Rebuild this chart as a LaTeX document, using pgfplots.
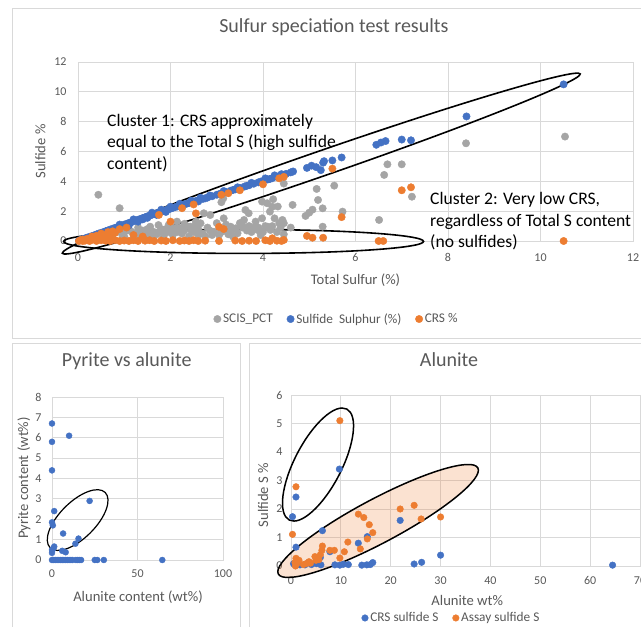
\documentclass[border=0pt]{standalone}
\usepackage{fontspec}
\setmainfont{Carlito}
\usepackage{pgfplots}
\pgfplotsset{compat=1.18}
\definecolor{exgray}{HTML}{A5A5A5}
\definecolor{exblue}{HTML}{4472C4}
\definecolor{exorange}{HTML}{ED7D31}
\definecolor{gridc}{HTML}{D9D9D9}
\definecolor{txt}{HTML}{595959}
\definecolor{frame}{HTML}{D9D9D9}

\pgfplotsset{
  excel/.style={
    scale only axis, clip=false,
    grid=major, major grid style={gridc, line width=0.8pt},
    axis line style={gridc, line width=0.8pt},
    major tick length=0pt,
    tick label style={font=\fontsize{12}{14}\selectfont, text=txt},
    /pgf/number format/assume math mode=true,
    label style={font=\fontsize{14.6}{17}\selectfont, text=txt},
    title style={font=\fontsize{20}{24}\selectfont, text=txt, anchor=center},
    legend style={draw=none, fill=none, legend columns=-1,
      font=\fontsize{13.3}{16}\selectfont, text=txt, anchor=center,
      /tikz/every odd column/.style={column sep=0pt},
      /tikz/every even column/.style={column sep=12pt}},
    legend cell align=left,
    legend image code/.code={\draw[##1] plot coordinates {(0pt,0pt)};},
    only marks,
  }
}

\begin{document}
\begin{tikzpicture}[x=1pt,y=1pt]
\path[use as bounding box, fill=white] (0,0) rectangle (641,627);
% panel frames
\draw[frame, line width=0.8pt] (12,627-8) rectangle (650,627-338);
\draw[frame, line width=0.8pt] (12.5,627-343) rectangle (240.5,-5);
\draw[frame, line width=0.8pt] (249,627-343) rectangle (650,-5);

% ================= TOP CHART =================
\begin{axis}[excel,
  at={(78pt,386pt)}, anchor=south west,
  width=555pt, height=179pt,
  xmin=0, xmax=12, ymin=0, ymax=12,
  xtick={0,2,...,12}, ytick={0,2,...,12},
  xticklabel style={yshift=-9pt},
  yticklabel style={xshift=-8pt},
  title={Sulfur speciation test results},
  title style={at={(axis description cs:0.461,1.162)}},
  xlabel={Total Sulfur (\%)},
  xlabel style={at={(axis description cs:0.5,-0.218)}, anchor=center},
  ylabel={Sulfide \%},
  ylabel style={at={(axis description cs:-0.068,0.5)}, anchor=center},
  legend style={at={(axis description cs:0.466,-0.436)}},
]
\addplot[mark=*, exgray, mark size=3.7pt] coordinates {
(0.44,3.1)(0.9,2.2)
(0.2,0.1)(0.3,0.2)(0.45,0.15)(0.5,0.3)(0.6,0.5)(0.7,0.4)(0.75,0.2)(0.84,0.62)(0.95,0.45)(1.0,0.3)(1.05,0.7)(1.1,0.8)(1.16,0.62)(1.2,0.2)(1.25,0.5)(1.3,0.9)(1.35,0.35)(1.4,0.7)(1.45,0.3)(1.5,0.5)(1.56,0.96)(1.6,0.2)(1.63,0.62)(1.7,0.45)(1.74,1.07)(1.8,0.8)(1.85,0.3)(1.9,0.55)(1.96,1.07)(2.0,0.6)(2.05,0.4)(2.1,0.85)(2.14,1.3)(2.2,0.85)(2.25,0.5)(2.3,0.7)(2.35,1.0)(2.4,0.3)(2.43,0.96)(2.5,0.6)(2.54,1.07)(2.6,0.8)(2.65,1.19)(2.7,0.5)(2.72,1.86)(2.75,0.3)(2.8,0.9)(2.86,1.74)(2.9,0.4)(2.94,0.62)(3.0,1.2)(3.05,0.4)(3.1,2.6)(3.14,2.85)(3.15,1.52)(3.2,0.7)(3.25,0.45)(3.3,0.96)(3.35,0.3)(3.41,0.85)(3.45,0.52)(3.5,1.2)(3.55,1.07)(3.59,1.41)(3.62,2.08)(3.65,0.7)(3.69,1.86)(3.75,0.6)(3.8,0.9)(3.84,1.3)(3.88,0.74)(3.95,0.4)(3.98,1.52)(3.98,2.64)(4.05,1.0)(4.09,2.53)(4.1,0.96)(4.15,1.97)(4.16,0.74)(4.2,2.3)(4.22,2.8)(4.25,1.52)(4.3,0.6)(4.32,2.31)(4.38,0.9)(4.42,1.41)(4.45,1.19)(4.45,0.45)(4.45,3.85)(4.64,2.42)(4.6,0.9)(4.92,1.68)(5.0,1.9)(5.07,2.1)(5.16,3.49)(5.19,2.75)(5.29,2.19)(5.29,0.96)(5.54,3.71)(5.72,1.97)(6.51,1.41)(6.62,4.43)(6.69,5.14)(7.0,5.14)(7.22,2.97)(8.39,6.55)(10.53,7.0)
(1.3,0.6)(1.5,0.8)(1.75,0.6)(2.0,0.9)(2.15,0.6)(2.45,0.7)(2.6,0.4)(2.85,0.7)(3.1,0.6)(3.3,0.6)(3.55,0.9)(3.7,1.0)(3.9,0.9)(4.0,0.6)(4.2,1.0)(4.35,1.2)(2.55,1.3)(2.3,1.15)(1.9,0.8)(3.2,1.1)
};
\addlegendentry{SCIS\_PCT}
\addplot[mark=*, exblue, mark size=3.7pt] coordinates {
(0.02,0.03)(0.05,0.06)(0.08,0.1)(0.12,0.14)(0.16,0.18)(0.2,0.23)(0.25,0.28)(0.3,0.33)(0.35,0.38)(0.4,0.44)(0.45,0.5)(0.5,0.55)(0.55,0.6)(0.6,0.66)(0.65,0.71)(0.7,0.77)(0.75,0.82)(0.8,0.88)(0.85,0.93)(0.9,0.99)(0.95,1.04)(1.0,1.1)(1.05,1.15)(1.1,1.21)(1.15,1.26)(1.2,1.32)(1.25,1.37)(1.3,1.43)(1.35,1.48)(1.4,1.54)(1.45,1.59)(1.5,1.65)(1.55,1.7)(1.6,1.76)(1.65,1.81)(1.7,1.86)(1.75,1.92)(1.8,1.97)(1.85,2.02)(1.9,2.07)(1.95,2.12)(2.0,2.17)(2.05,2.22)(2.1,2.27)(2.15,2.32)(2.2,2.37)(2.3,2.46)(2.35,2.5)(2.4,2.55)(2.5,2.64)(2.55,2.68)(2.6,2.73)(2.7,2.82)(2.75,2.86)(2.8,2.91)(2.9,3.0)(3.0,3.1)(3.05,3.14)(3.1,3.19)(3.2,3.28)(3.3,3.37)(3.35,3.42)(3.4,3.46)(3.5,3.56)(3.6,3.65)(3.65,3.7)(3.7,3.74)(3.8,3.84)(3.9,3.93)(3.95,3.98)(4.0,4.02)(4.1,4.12)(4.15,4.16)(4.2,4.21)(4.3,4.3)(4.35,4.35)(4.4,4.48)(4.5,4.5)(4.6,4.6)(4.65,4.66)(4.95,4.9)(5.05,5.05)(5.15,4.95)(5.25,4.75)(5.3,5.25)(5.32,5.35)(5.5,5.4)(5.7,5.6)(6.45,6.45)(6.55,6.6)(6.65,6.7)(7.0,6.8)(7.2,6.75)(8.4,8.35)(10.5,10.5)
(0.9,1.1)(1.2,1.45)(1.4,1.45)(1.6,1.9)(1.8,2.1)(2.0,2.3)(2.2,2.5)(2.45,2.7)(2.65,2.9)(2.85,3.05)(3.15,3.35)(3.45,3.6)(3.75,3.9)(4.05,4.2)(4.25,4.4)(1.1,1.05)(1.3,1.3)(1.5,1.55)(1.7,1.75)(1.9,1.95)(2.25,2.3)(2.6,2.65)
};
\addlegendentry{Sulfide\ \ Sulphur (\%)}
\addplot[mark=*, exorange, mark size=3.7pt] coordinates {
(0.1,0.1)(0.2,0.15)(0.3,0.3)(0.4,0.35)(0.5,0.5)(0.55,0.4)(0.65,0.6)(0.75,0.65)(0.8,0.55)(0.9,0.8)(1.05,0.9)(0.35,0.2)(0.45,0.25)(0.6,0.3)(0.7,0.2)(1.2,0.4)(1.4,0.3)(1.75,1.75)(2.0,1.3)(2.25,2.2)(2.5,2.45)(2.55,1.85)(3.1,3.1)(3.25,3.2)(3.5,3.4)(4.0,3.8)(4.35,4.2)(4.45,4.3)(5.5,4.85)(5.7,1.6)(3.05,0.95)(3.15,0.8)(7.0,3.4)(7.2,3.6)
(0.02,0.0)(0.05,0.05)(0.1,0.0)(0.15,0.02)(0.2,0.05)(0.25,0.0)(0.3,0.08)(0.4,0.0)(0.5,0.05)(0.6,0.02)(0.7,0.0)(0.8,0.06)(0.9,0.0)(1.0,0.03)(1.1,0.0)(1.2,0.05)(1.3,0.0)(1.45,0.02)(1.55,0.05)(1.65,0.0)(1.8,0.03)(1.9,0.0)(2.05,0.05)(2.2,0.0)(2.3,0.03)(2.4,0.0)(2.5,0.05)(2.6,0.0)(2.75,0.02)(3.05,0.0)(3.4,0.03)(3.55,0.0)(3.7,0.02)(3.85,0.0)(4.05,0.05)(4.15,0.0)(4.3,0.02)(4.4,0.0)(4.45,0.07)(4.2,0.18)(4.95,0.34)(5.07,0.22)(5.3,0.22)(6.5,0.0)(6.6,0.0)(10.5,0.0)
};
\addlegendentry{CRS \%}
\draw[black, line width=1.6pt, rotate around={19.1:(axis cs:5.26,5.19)}] (axis cs:5.26,5.19) ellipse [x radius=274pt, y radius=12.5pt];
\draw[black, line width=1.6pt] (axis cs:3.58,-0.03) ellipse [x radius=180pt, y radius=12pt];
\end{axis}

% annotations
\begin{scope}[font=\fontsize{17.6}{21}\selectfont]
\node[anchor=base west, inner sep=0] at (107,627-126.2) {Cluster 1: CRS approximately};
\node[anchor=base west, inner sep=0] at (107,627-147.7) {equal to the Total S (high sulfide};
\node[anchor=base west, inner sep=0] at (107,627-169.2) {content)};
\node[anchor=base west, inner sep=0] at (430,627-205) {Cluster 2: Very low CRS,};
\node[anchor=base west, inner sep=0] at (430,627-226.5) {regardless of Total S content};
\node[anchor=base west, inner sep=0] at (430,627-248) {(no sulfides)};
\end{scope}

% ================= BOTTOM LEFT =================
\begin{axis}[excel,
  at={(52pt,67pt)}, anchor=south west,
  width=171pt, height=163pt,
  xmin=0, xmax=100, ymin=0, ymax=8,
  xtick={0,50,100}, ytick={0,1,...,8},
  xticklabel style={yshift=-6pt},
  yticklabel style={xshift=-7pt},
  title={Pyrite vs alunite},
  title style={at={(axis description cs:0.437,1.184)}},
  xlabel={Alunite content (wt\%)},
  xlabel style={at={(axis description cs:0.503,-0.227)}, anchor=center},
  ylabel={Pyrite content (wt\%)},
  ylabel style={at={(axis description cs:-0.164,0.503)}, anchor=center},
]
\addplot[mark=*, exblue, mark size=3pt] coordinates {
(0,6.7)(0,5.8)(10,6.1)(0,4.4)(22,2.9)(1.3,2.4)(0,1.85)(0.5,1.7)(6.5,1.3)(15.5,1.05)(13.7,0.8)(1.3,0.66)(6,0.45)(8,0.38)(0,0.35)(0,0.5)(0.7,0.55)
(0,0)(1,0)(2,0)(3,0)(4,0)(5,0)(6,0)(7,0)(8,0)(9,0)(10,0)(11,0)(12,0)(14,0)(15,0)(16,0)(17,0)(25,0)(26.5,0)(30.3,0)(64.5,0)
};
\draw[black, line width=1.2pt, rotate around={45:(axis cs:15,1.96)}] (axis cs:15,1.96) ellipse [x radius=39pt, y radius=18pt];
\end{axis}

% ================= BOTTOM RIGHT =================
\begin{axis}[excel,
  at={(291pt,61pt)}, anchor=south west,
  width=349pt, height=171pt,
  xmin=0, xmax=70, ymin=0, ymax=6,
  xtick={0,10,...,70}, ytick={0,1,...,6},
  xticklabel style={yshift=-7pt},
  yticklabel style={xshift=-5pt},
  title={Alunite},
  title style={at={(axis description cs:0.453,1.17)}},
  xlabel={Alunite wt\%},
  xlabel style={at={(axis description cs:0.505,-0.199)}, anchor=center},
  ylabel={Sulfide S \%},
  ylabel style={at={(axis description cs:-0.080,0.415)}, anchor=center},
  legend style={at={(axis description cs:0.46,-0.304)}},
]
\addplot[mark=*, exblue, mark size=3.3pt] coordinates {
(9.7,3.4)(1.0,2.42)(0.3,1.73)(6.3,1.24)(21.9,1.6)(15.3,1.03)(13.5,0.8)(7.8,0.5)(5.9,0.3)(30,0.38)(1.0,0.66)
(0.5,0.08)(0.8,0.04)(1.8,0.04)(2.8,0.04)(3.5,0.12)(4.1,0.05)(5.1,0.08)(6.0,0.04)(8.8,0.04)(9.8,0.03)(10.5,0.06)(11.5,0.05)(14.2,0.03)(15.2,0.04)(15.9,0.05)(16.4,0.12)(24.7,0.07)(26.2,0.13)(64.5,0.03)
};
\addlegendentry{CRS sulfide S}
\addplot[mark=*, exorange, mark size=3.3pt] coordinates {
(9.8,5.1)(1.0,2.78)(0.3,1.11)(21.9,2.0)(24.7,2.13)(26.1,1.65)(30,1.72)(13.5,1.82)(14.6,1.7)(15.7,1.45)(16.4,1.17)(15.3,0.95)(13.9,0.6)(11.4,0.84)(10.7,0.5)(9.8,0.28)(7.8,0.55)(8.7,0.55)(6.3,0.7)(6.2,0.55)(5.9,0.4)(5.6,0.22)(4.8,0.33)(5.0,0.2)(3.6,0.15)(3.0,0.08)(2.5,0.05)(1.0,0.27)(1.6,0.2)(1.2,0.09)(0.9,0.0)(0.8,0.12)(3.9,0.1)
};
\addlegendentry{Assay sulfide S}
\draw[black, line width=1.5pt, rotate around={62.6:(axis cs:5.42,3.56)}] (axis cs:5.42,3.56) ellipse [x radius=62.5pt, y radius=23.5pt];
\draw[black, line width=1.5pt, fill=exorange, fill opacity=0.22, rotate around={28:(axis cs:17.47,1.58)}] (axis cs:17.47,1.58) ellipse [x radius=113pt, y radius=22pt];
\end{axis}
\end{tikzpicture}
\end{document}
